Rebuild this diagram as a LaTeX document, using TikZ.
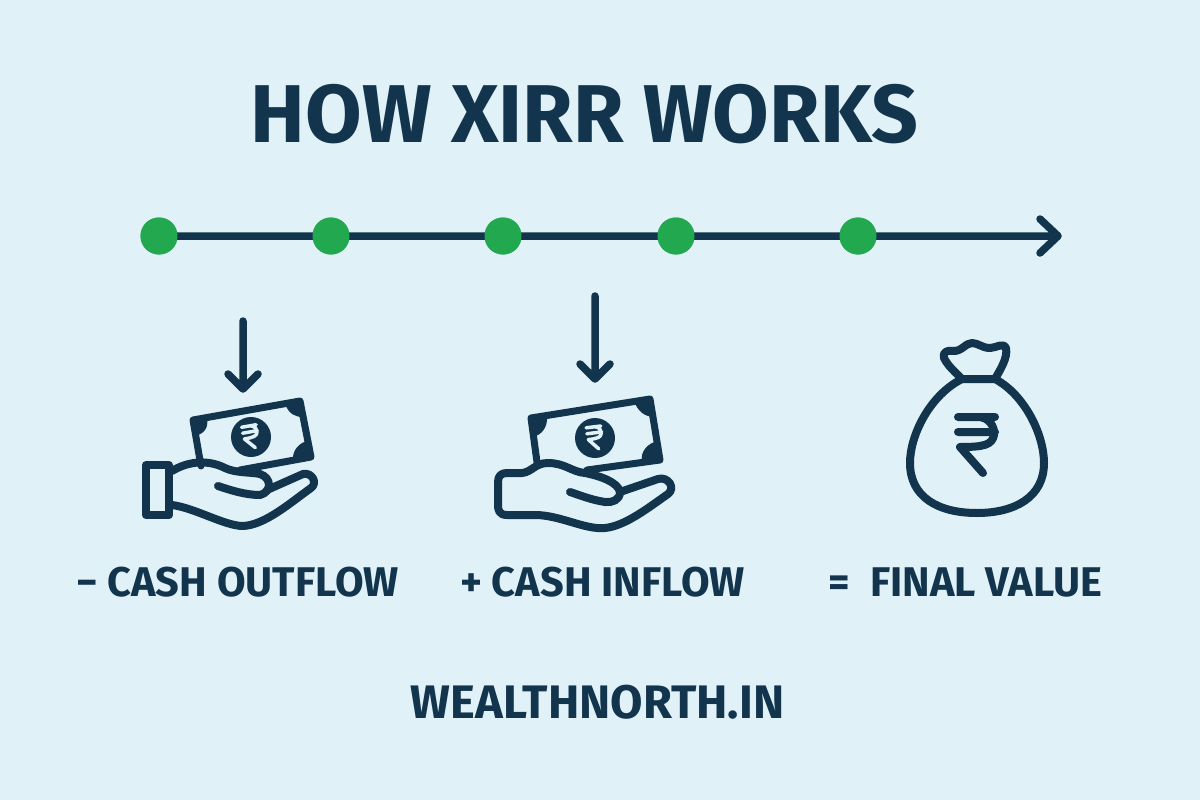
\documentclass[tikz,border=0pt]{standalone}
\usepackage{fontspec}
\setmainfont{Fira Sans}
\usetikzlibrary{positioning}

\definecolor{inkblue}{HTML}{12344D}
\definecolor{paleblue}{HTML}{E0F1F8}
\definecolor{dotgreen}{HTML}{22A84F}

\tikzset{
  stop/.style={circle, fill=dotgreen, minimum size=37pt, inner sep=0pt},
  caption/.style={text=inkblue, font=\fontsize{41.5}{44}\selectfont\bfseries, inner sep=0pt},
  icon/.style={draw=inkblue, line width=8pt, line join=round, line cap=round},
  bill/.style={icon, line width=7pt},
  droparrow/.style={icon, line width=7.5pt},
  rupeemark/.pic={
    \draw[line cap=round, line join=round]
      (-19,-28) -- (18,-28) (-19,-13) -- (18,-13)
      (3,-28) .. controls (16,-26) and (18,-13) .. (17,-10)
      .. controls (15,0) and (7,2) .. (-17,2) -- (6,28);
  }
}

\begin{document}
\begin{tikzpicture}[x=1pt,y=-1pt]
  \useasboundingbox[fill=paleblue] (0,0) rectangle (1200,800);

  \node[text=inkblue, font=\fontsize{82}{86}\selectfont\bfseries, inner sep=0pt] (title) at (584.5,114) {HOW XIRR WORKS};

  % timeline
  \node[stop] (d1) at (159,236) {};
  \node[stop] (d2) at (331,236) {};
  \node[stop] (d3) at (503,236) {};
  \node[stop] (d4) at (676,236) {};
  \node[stop] (d5) at (858,236) {};
  \coordinate (tend) at (1058,236);
  \draw[droparrow] (d1.center) -- (tend) ++(-18,-17) -- (tend) -- ++(-18,17);
  \foreach \n in {d1,d2,d3,d4,d5} \node[stop] at (\n) {};

  % cash outflow
  \coordinate (atop1) at (243,321);
  \coordinate (atip1) at (243,389);
  \draw[droparrow] (atop1) -- (atip1) ++(-15,-15) -- (atip1) -- ++(15,-15);
  \fill[inkblue] (193,420) -- (207,418) .. controls (209,429) and (203,434) .. (195,436) -- cycle
    (300,401) -- (285,404) .. controls (289,414) and (295,417) .. (303,417) -- cycle
    (311,457) -- (293,460) .. controls (292,450) and (300,442) .. (308,441) -- cycle;
  \draw[bill] (201,466) -- (193,420) -- (300,401) -- (311,457) -- (240,470);
  \node[circle, fill=inkblue, minimum size=40pt, inner sep=0pt] (coin1) at (251,437) {};
  \pic[color=paleblue, line width=3.5pt, scale=.4, rotate=10] at (coin1) {rupeemark};
  \draw[icon] (146,465) rectangle (169,515);
  \draw[icon] (172,471) .. controls (185,463) and (205,458) .. (225,468)
    .. controls (235,473) and (250,472) .. (260,474)
    .. controls (272,478) and (272,492) .. (260,495)
    .. controls (245,495) and (230,490) .. (218,486);
  \draw[icon] (267,490) -- (303,474) .. controls (312,472) and (318,483) .. (311,488)
    .. controls (290,503) and (265,525) .. (243,526)
    .. controls (225,526) and (195,508) .. (172,505);

  % cash inflow
  \coordinate (atop2) at (595,296);
  \coordinate (atip2) at (595,379);
  \draw[droparrow] (atop2) -- (atip2) ++(-15,-15) -- (atip2) -- ++(15,-15);
  \fill[inkblue] (531,418) -- (547,416) .. controls (548,428) and (541,435) .. (533,437) -- cycle
    (650,399) -- (634,401) .. controls (638,412) and (645,416) .. (652,417) -- cycle
    (660,460) -- (642,462) .. controls (640,451) and (648,443) .. (658,441) -- cycle;
  \draw[bill] (537,462) -- (531,418) -- (650,399) -- (660,460) -- (587,470);
  \node[circle, fill=inkblue, minimum size=40pt, inner sep=0pt] (coin2) at (595,438) {};
  \pic[color=paleblue, line width=3.5pt, scale=.4, rotate=7] at (coin2) {rupeemark};
  \draw[icon] (507,473) -- (522,473) .. controls (532,472) and (535,463) .. (548,463)
    .. controls (565,463) and (572,472) .. (585,473)
    .. controls (600,476) and (618,482) .. (620,492)
    .. controls (620,500) and (612,503) .. (605,502)
    .. controls (592,500) and (582,496) .. (570,492);
  \draw[icon] (620,492) -- (658,479) .. controls (668,476) and (676,488) .. (668,494)
    .. controls (648,508) and (625,526) .. (605,528)
    .. controls (585,530) and (560,515) .. (535,515)
    -- (507,515) .. controls (499,515) and (498,510) .. (498,505)
    -- (498,482) .. controls (498,476) and (501,473) .. (507,473);

  % final value
  \draw[icon] (962,379) -- (995,379)
    .. controls (1025,395) and (1044,435) .. (1044,463)
    .. controls (1044,497) and (1015,513) .. (977,513)
    .. controls (938,513) and (910,497) .. (910,463)
    .. controls (910,435) and (930,395) .. (962,379);
  \draw[icon] (962,379) .. controls (955,372) and (948,366) .. (944,358)
    .. controls (942,352) and (948,350) .. (952,351)
    .. controls (962,352) and (965,343) .. (972,343)
    .. controls (978,343) and (982,348) .. (990,348)
    .. controls (996,348) and (1003,342) .. (1006,348)
    .. controls (1008,358) and (1000,370) .. (995,379);
  \pic[color=inkblue, line width=8pt] at (977,445) {rupeemark};

  % labels
  \node[caption] (out) at (237.5,582) {− CASH OUTFLOW};
  \node[caption] (in) at (602.5,582) {+ CASH INFLOW};
  \node[caption] (final) at (965.5,582) {=\ \ FINAL VALUE};
  \node[text=inkblue, font=\fontsize{47}{50}\selectfont\bfseries, inner sep=0pt] (site) at (597.5,702) {WEALTHNORTH.IN};
\end{tikzpicture}
\end{document}
